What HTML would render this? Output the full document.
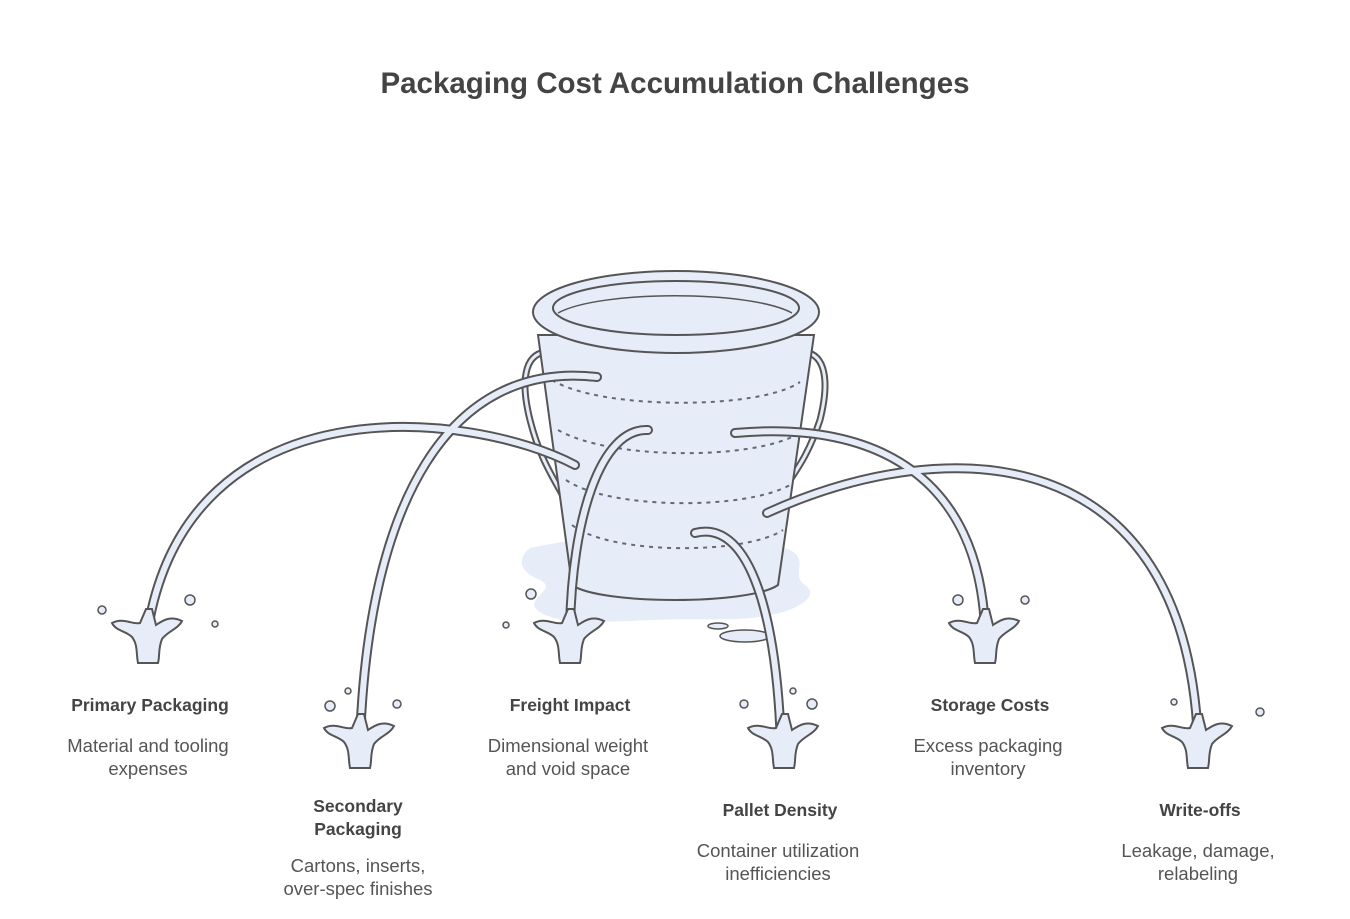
<!DOCTYPE html>
<html><head><meta charset="utf-8"><style>
body{margin:0;background:#fff}
svg{display:block}
text{font-family:"Liberation Sans",sans-serif;fill:#444;text-anchor:middle}
.h{font-weight:bold;font-size:17.5px}
.d{font-size:18.5px;fill:#555}
</style></head><body>
<svg width="1350" height="919" viewBox="0 0 1350 919">
<defs>
<g id="sp">
<path d="M-36,-12 C-25,-18 -15,-10 -8,-12 L-2,-26 L4,-26 L8,-10 C14,-14 22,-20 34,-14 C30,-6 20,-4 14,4 C10,14 12,20 10,28 L-10,28 C-12,18 -10,10 -16,2 C-22,-4 -32,-4 -36,-12Z" fill="#e6ecf8" stroke="#555" stroke-width="2"/>
</g>
</defs>
<text x="675" y="93" style="font-weight:bold;font-size:29.5px">Packaging Cost Accumulation Challenges</text>

<path d="M530,548 C570,540 600,535 640,540 C700,545 760,540 790,550 C810,560 790,575 805,585 C820,595 800,610 770,615 C740,622 700,618 650,620 C600,622 560,625 540,612 C520,600 560,590 540,580 C515,570 520,556 530,548Z" fill="#e6ecf8" stroke="none"/>
<ellipse cx="745" cy="636" rx="25" ry="6" fill="#e6ecf8" stroke="#555" stroke-width="1.5"/>
<ellipse cx="718" cy="626" rx="10" ry="3" fill="#e6ecf8" stroke="#555" stroke-width="1.5"/>

<path d="M545,352 C525,355 520,380 530,420 C540,460 555,480 565,500" fill="none" stroke="#555" stroke-width="7"/>
<path d="M545,352 C525,355 520,380 530,420 C540,460 555,480 565,500" fill="none" stroke="#e6ecf8" stroke-width="3"/>
<path d="M805,352 C825,355 830,380 820,420 C810,450 800,465 790,480" fill="none" stroke="#555" stroke-width="7"/>
<path d="M805,352 C825,355 830,380 820,420 C810,450 800,465 790,480" fill="none" stroke="#e6ecf8" stroke-width="3"/>

<path d="M538,335 L572,585 C600,605 750,605 778,585 L814,335Z" fill="#e6ecf8" stroke="#555" stroke-width="2"/>
<g fill="none" stroke="#667" stroke-width="2" stroke-dasharray="4,5">
<path d="M552,380 C600,410 760,410 800,382"/>
<path d="M558,430 C610,460 750,460 796,435"/>
<path d="M566,480 C610,510 745,510 790,485"/>
<path d="M572,525 C610,555 745,555 783,530"/>
</g>
<ellipse cx="676" cy="312" rx="143" ry="41" fill="#e6ecf8" stroke="#555" stroke-width="2"/>
<ellipse cx="676" cy="308" rx="123" ry="27" fill="#e6ecf8" stroke="#555" stroke-width="2"/>
<path d="M558,313 C600,290 750,290 792,313" fill="none" stroke="#555" stroke-width="1.5"/>

<g fill="none" stroke-linecap="round">
<g stroke="#555" stroke-width="10">
<path d="M575,465 C470,410 190,380 148,628"/>
<path d="M597,377 C450,360 368,500 360,742"/>
<path d="M648,430 C600,428 572,520 570,628"/>
<path d="M695,533 C745,520 776,600 781,745"/>
<path d="M735,433 C880,420 978,480 985,628"/>
<path d="M767,513 C950,430 1185,440 1198,740"/>
</g>
<g stroke="#e6ecf8" stroke-width="6">
<path d="M575,465 C470,410 190,380 148,628"/>
<path d="M597,377 C450,360 368,500 360,742"/>
<path d="M648,430 C600,428 572,520 570,628"/>
<path d="M695,533 C745,520 776,600 781,745"/>
<path d="M735,433 C880,420 978,480 985,628"/>
<path d="M767,513 C950,430 1185,440 1198,740"/>
</g>
</g>

<use href="#sp" x="148" y="635"/>
<use href="#sp" x="360" y="740"/>
<use href="#sp" x="570" y="635"/>
<use href="#sp" x="784" y="740"/>
<use href="#sp" x="985" y="635"/>
<use href="#sp" x="1198" y="740"/>
<g fill="#e6ecf8" stroke="#555" stroke-width="1.5">
<circle cx="102" cy="610" r="4"/><circle cx="190" cy="600" r="5"/><circle cx="215" cy="624" r="3"/>
<circle cx="330" cy="706" r="5"/><circle cx="348" cy="691" r="3"/><circle cx="397" cy="704" r="4"/>
<circle cx="531" cy="594" r="5"/><circle cx="506" cy="625" r="3"/>
<circle cx="744" cy="704" r="4"/><circle cx="793" cy="691" r="3"/><circle cx="812" cy="704" r="5"/>
<circle cx="958" cy="600" r="5"/><circle cx="1025" cy="600" r="4"/>
<circle cx="1174" cy="702" r="3"/><circle cx="1260" cy="712" r="4"/>
</g>

<text class="h" x="150" y="711">Primary Packaging</text>
<text class="d" x="148" y="752">Material and tooling</text>
<text class="d" x="148" y="775">expenses</text>
<text class="h" x="358" y="812">Secondary</text>
<text class="h" x="358" y="835">Packaging</text>
<text class="d" x="358" y="872">Cartons, inserts,</text>
<text class="d" x="358" y="895">over-spec finishes</text>
<text class="h" x="570" y="711">Freight Impact</text>
<text class="d" x="568" y="752">Dimensional weight</text>
<text class="d" x="568" y="775">and void space</text>
<text class="h" x="780" y="816">Pallet Density</text>
<text class="d" x="778" y="857">Container utilization</text>
<text class="d" x="778" y="880">inefficiencies</text>
<text class="h" x="990" y="711">Storage Costs</text>
<text class="d" x="988" y="752">Excess packaging</text>
<text class="d" x="988" y="775">inventory</text>
<text class="h" x="1200" y="816">Write-offs</text>
<text class="d" x="1198" y="857">Leakage, damage,</text>
<text class="d" x="1198" y="880">relabeling</text>
</svg>
</body></html>
